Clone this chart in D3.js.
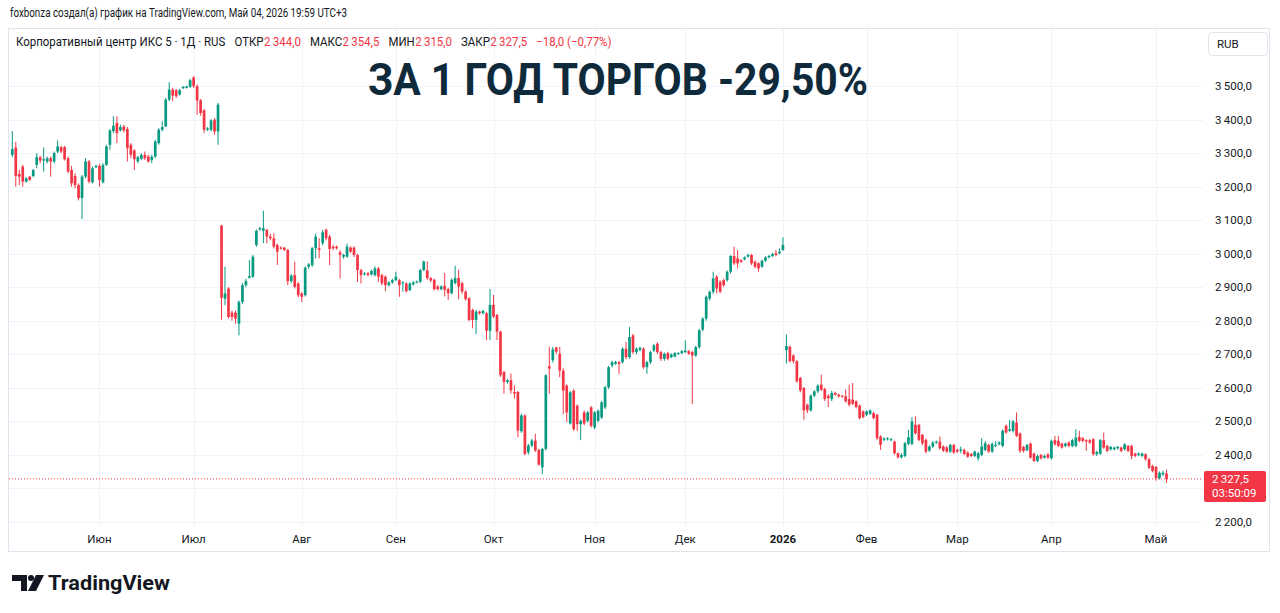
<!DOCTYPE html>
<html><head><meta charset="utf-8">
<script src="https://cdn.jsdelivr.net/npm/d3@7/dist/d3.min.js"></script>
<style>body{margin:0;background:#fff}svg{display:block;font-family:Roboto,"Noto Sans",sans-serif}</style>
</head><body><svg id="c" width="1280" height="613"></svg>
<script>
// ---- data ----
const openP = [3295,3317,3238,3260,3215,3230,3232,3265,3288,3278,3275,3285,3275,3305,3318,3318,3285,3250,3232,3205,3166,3230,3275,3213,3258,3262,3213,3265,3325,3366,3390,3368,3380,3372,3325,3308,3276,3283,3295,3290,3280,3290,3330,3370,3380,3460,3490,3488,3475,3494,3495,3498,3526,3500,3458,3428,3370,3370,3400,3365,
3084,2866,2896,2824,2824,2791,2856,2906,2928,2931,3026,3072,3068,3071,3051,3046,3026,3018,3018,3011,2918,2936,2911,2881,2876,2961,2966,3016,3016,3031,3071,3051,3021,3021,3004,2991,2991,3018,3018,2996,2951,2938,2941,2938,2936,2956,2936,2931,2906,2914,2921,2921,2911,2911,2891,2908,2914,2916,2951,
2950,2927,2922,2902,2894,2904,2894,2882,2912,2927,2912,2887,2867,2832,2802,2827,2822,2822,2770,2847,2817,2767,2647,2617,2622,2587,2587,2470,2517,2407,2427,2442,2414,2362,2417,2664,2682,2720,2701,2651,2606,
2493,2591,2546,2491,2526,2501,2541,2481,2501,2511,2541,2601,2666,2671,2676,2676,2716,2691,2756,2706,2713,2716,2661,2676,2711,2731,2706,2686,2703,2691,2693,2701,2703,2706,2709,2706,2696,2721,2773,2806,2866,2886,2931,2916,2921,2921,2946,2993,2986,2981,2983,2991,2996,2976,2971,2961,2979,2989,2993,3001,3001,3011,
2712,2722,2696,2679,2629,2599,2549,2532,2576,2589,2609,2596,2576,2566,2584,2579,2576,2574,2566,2564,2559,2546,2529,2519,2522,2524,2519,2454,2444,2446,2444,2439,2404,2392,2396,2432,2432,2489,2489,2459,2444,2412,2424,2436,2439,2424,2422,2409,2429,2414,2412,2414,2406,2402,2396,2389,2399,2414,2429,2409,2426,
2431,2426,2486,2471,2471,2496,2463,2423,2413,2433,2403,2381,2399,2391,2401,2389,2443,2441,2433,2426,2436,2426,2426,2453,2449,2443,2443,2446,2401,2403,2443,2426,2416,2416,2419,2421,2416,2426,2426,2403,2399,2396,2401,2386,2366,2363,2330,2341,2344];
const highP = [3366,3334,3250,3265,3228,3232,3252,3300,3292,3317,3290,3290,3305,3338,3322,3322,3290,3262,3240,3210,3235,3285,3280,3260,3266,3268,3270,3325,3372,3410,3410,3385,3385,3378,3330,3312,3292,3300,3305,3295,3295,3340,3375,3395,3465,3512,3495,3492,3492,3500,3502,3522,3530,3505,3462,3432,3378,3402,3405,3450,
3086,2961,2900,2830,2830,2860,2912,2925,2981,2996,3072,3080,3128,3074,3060,3061,3030,3022,3020,3014,2940,2976,2915,2885,2962,2972,3020,3060,3046,3071,3075,3056,3026,3024,3010,3000,3030,3022,3022,3000,2955,2945,2945,2952,2962,2960,2940,2935,2918,2925,2946,2925,2918,2915,2915,2918,2920,2955,2980,
2977,2930,2925,2906,2906,2942,2898,2926,2964,2952,2916,2890,2870,2836,2832,2830,2832,2826,2894,2877,2820,2770,2650,2626,2642,2607,2590,2522,2520,2432,2447,2462,2418,2420,2640,2722,2722,2722,2722,2658,2610,
2590,2595,2550,2505,2532,2530,2545,2530,2535,2560,2605,2665,2680,2680,2680,2720,2736,2781,2760,2720,2722,2720,2680,2710,2731,2735,2710,2705,2707,2702,2706,2706,2712,2741,2712,2710,2725,2775,2810,2875,2890,2946,2936,2920,2925,2950,2996,3021,3011,2984,2992,3000,2999,2980,2975,2982,2992,2996,3002,3011,3016,3049,
2759,2726,2700,2682,2632,2602,2552,2580,2592,2610,2639,2600,2580,2590,2588,2582,2578,2594,2609,2614,2562,2550,2532,2532,2535,2528,2522,2458,2452,2452,2450,2442,2406,2404,2438,2474,2512,2514,2492,2462,2448,2428,2440,2442,2454,2428,2425,2432,2432,2418,2424,2418,2410,2405,2412,2408,2449,2440,2432,2436,2440,
2440,2475,2490,2503,2503,2526,2466,2426,2432,2436,2406,2400,2402,2400,2404,2445,2456,2456,2436,2436,2440,2447,2476,2471,2452,2446,2446,2449,2412,2447,2466,2429,2426,2424,2426,2424,2434,2429,2429,2406,2406,2406,2404,2390,2370,2366,2350,2352,2354.5];
const lowP = [3288,3200,3205,3200,3212,3218,3228,3255,3270,3245,3270,3230,3270,3300,3300,3278,3240,3200,3195,3159,3103,3225,3210,3210,3255,3200,3210,3262,3310,3360,3330,3365,3362,3275,3285,3250,3270,3280,3280,3272,3270,3285,3325,3365,3378,3455,3455,3465,3472,3492,3493,3495,3495,3415,3412,3360,3366,3365,3355,3325,
2803,2846,2806,2800,2791,2756,2850,2900,2926,2928,3020,3068,3031,3031,3040,3015,2966,3012,3008,2906,2912,2896,2870,2856,2872,2955,2960,2986,2986,3025,3040,2966,3010,3012,2926,2985,2988,3002,2990,2916,2911,2935,2932,2935,2932,2916,2906,2888,2902,2910,2918,2871,2886,2884,2888,2905,2912,2912,2948,
2922,2915,2890,2890,2890,2872,2862,2878,2908,2864,2880,2860,2798,2777,2760,2818,2818,2742,2742,2808,2742,2632,2582,2612,2582,2567,2452,2465,2398,2400,2422,2408,2367,2342,2412,2582,2675,2700,2631,2521,2497,
2490,2471,2471,2443,2488,2496,2481,2476,2496,2506,2536,2596,2660,2668,2641,2672,2685,2686,2700,2700,2708,2656,2641,2670,2706,2700,2680,2680,2682,2688,2690,2698,2700,2703,2698,2551,2692,2716,2768,2800,2860,2880,2881,2882,2900,2916,2940,2966,2956,2972,2980,2988,2966,2956,2946,2958,2975,2986,2990,2992,2998,3008,
2672,2675,2672,2614,2586,2504,2524,2528,2572,2584,2590,2560,2542,2560,2576,2570,2570,2555,2544,2548,2538,2505,2508,2515,2518,2505,2444,2414,2440,2442,2440,2400,2388,2388,2392,2428,2428,2460,2440,2428,2404,2408,2420,2432,2415,2408,2405,2405,2402,2405,2404,2398,2390,2392,2392,2382,2395,2410,2405,2405,2422,
2428,2422,2462,2468,2466,2452,2405,2406,2410,2388,2378,2377,2385,2388,2387,2385,2427,2422,2418,2422,2422,2422,2422,2437,2437,2411,2432,2397,2396,2399,2417,2407,2412,2412,2415,2407,2412,2407,2386,2392,2395,2392,2382,2357,2347,2322,2326,2336,2315];
const closeP = [3312,3232,3230,3215,3225,3220,3250,3288,3278,3282,3285,3275,3300,3320,3305,3282,3245,3210,3205,3166,3230,3275,3215,3255,3262,3220,3265,3320,3368,3382,3360,3378,3368,3315,3295,3282,3288,3295,3285,3275,3290,3335,3370,3378,3460,3490,3472,3470,3488,3498,3499,3518,3500,3457,3420,3370,3374,3398,3365,3445,
2868,2881,2811,2811,2806,2856,2906,2918,2933,2991,3068,3076,3076,3051,3046,3021,3006,3016,3011,2918,2934,2901,2876,2871,2958,2968,3016,3051,3011,3064,3046,3014,3016,3016,2996,2996,3021,3006,2996,2951,2936,2941,2936,2948,2956,2931,2911,2906,2914,2921,2931,2906,2914,2888,2911,2914,2916,2951,2976,
2927,2920,2894,2894,2902,2892,2882,2922,2927,2902,2887,2864,2802,2802,2827,2822,2829,2770,2847,2812,2767,2637,2617,2622,2592,2582,2472,2517,2402,2427,2442,2412,2370,2417,2637,2657,2714,2707,2651,2591,2526,
2586,2476,2491,2501,2493,2526,2486,2526,2531,2556,2601,2661,2676,2676,2671,2716,2691,2751,2706,2716,2719,2661,2676,2706,2726,2706,2686,2701,2686,2699,2703,2703,2709,2711,2701,2696,2721,2771,2806,2871,2886,2926,2896,2886,2906,2946,2993,2971,2971,2976,2989,2996,2971,2961,2956,2979,2989,2993,2999,2996,3006,3026,
2724,2679,2679,2619,2592,2532,2532,2576,2589,2606,2594,2566,2569,2584,2579,2574,2574,2559,2549,2552,2542,2509,2512,2529,2532,2509,2449,2429,2448,2449,2446,2404,2392,2399,2434,2452,2499,2464,2444,2434,2409,2424,2436,2439,2419,2412,2409,2429,2406,2409,2416,2402,2394,2396,2409,2404,2424,2434,2409,2432,2429,
2436,2471,2466,2476,2499,2456,2411,2411,2429,2391,2381,2396,2389,2396,2391,2441,2431,2426,2421,2433,2426,2443,2451,2441,2441,2439,2436,2401,2408,2443,2421,2411,2423,2421,2423,2411,2431,2411,2396,2396,2403,2403,2386,2361,2351,2330,2346,2346,2327.5];
const priceTicks = [2200,2300,2400,2500,2600,2700,2800,2900,3000,3100,3200,3300,3400,3500];
const monthLabels = ["Июн","Июл","Авг","Сен","Окт","Ноя","Дек","2026","Фев","Мар","Апр","Май"];
const monthBar = [26,53,84,111,139,168,194,222,246,272,299,329];
const lastPrice = 2327.5;

// ---- scales ----
const N = closeP.length;
const bars = d3.range(N).map(i => ({i: i+1, o: openP[i], h: highP[i], l: lowP[i], c: closeP[i]}));
const x = d3.scaleLinear().domain([1, N]).range([12.3, 1166.5]);
const y = d3.scaleLinear().domain([2200, 3500]).range([521.6, 86.2]);
const UP = "#089981", DN = "#f23645", TXT = "#131722", GRID = "#f0f3fa";
const loc = d3.formatLocale({decimal: ",", thousands: "\u2009", grouping: [3], currency: ["", ""]});
const fmt = loc.format(",.1f");

const svg = d3.select("#c");
svg.append("rect").attr("width",1280).attr("height",613).attr("fill","#fff");

// header credit
svg.append("text").attr("x",10).attr("y",17).attr("font-size",12).attr("fill",TXT)
  .attr("textLength",337).attr("lengthAdjust","spacingAndGlyphs")
  .text("foxbonza создал(а) график на TradingView.com, Май 04, 2026 19:59 UTC+3");

// frame
svg.append("rect").attr("x",8.5).attr("y",28.5).attr("width",1261).attr("height",523)
  .attr("fill","none").attr("stroke","#e0e3eb");

const plotL = 9, plotR = 1203;
// horizontal grid
svg.append("g").selectAll("line").data(priceTicks).join("line")
  .attr("x1",plotL).attr("x2",plotR)
  .attr("y1",d=>Math.round(y(d))+0.5).attr("y2",d=>Math.round(y(d))+0.5)
  .attr("stroke",GRID);
// vertical grid
svg.append("g").selectAll("line").data(monthBar).join("line")
  .attr("x1",d=>Math.round(x(d))+0.5).attr("x2",d=>Math.round(x(d))+0.5)
  .attr("y1",29).attr("y2",526).attr("stroke",GRID);

// legend row: separate pieces laid out one after another, then squeezed to the reference width
const legPieces = [["Корпоративный центр ИКС 5 · 1Д · RUS",TXT,0],["ОТКР",TXT,9],[fmt(openP[N-1]),DN,0],["МАКС",TXT,9],[fmt(highP[N-1]),DN,0],
 ["МИН",TXT,9],[fmt(lowP[N-1]),DN,0],["ЗАКР",TXT,9],[fmt(closeP[N-1]),DN,0],["−18,0 (−0,77%)",DN,9]];
const legG = svg.append("g");
let cx = 0;
legPieces.forEach(([t,c,gap]) => {
  cx += gap;
  const tx = legG.append("text").attr("x",cx).attr("y",0).attr("font-size",12).attr("fill",c).text(t);
  cx += tx.node().getComputedTextLength() + 0.5;
});
legG.attr("transform",`translate(16,46) scale(${596/cx},1)`);

// title
svg.append("text").attr("x",368).attr("y",95).attr("font-size",44).attr("font-weight",700)
  .attr("fill","#0e2a3b").attr("textLength",500).attr("lengthAdjust","spacingAndGlyphs")
  .text("ЗА 1 ГОД ТОРГОВ -29,50%");

// candles
const g = svg.append("g");
g.selectAll("line").data(bars).join("line")
  .attr("x1",d=>x(d.i)).attr("x2",d=>x(d.i))
  .attr("y1",d=>y(d.h)).attr("y2",d=>y(d.l))
  .attr("stroke",d=>d.c>=d.o?UP:DN).attr("stroke-width",1);
g.selectAll("rect").data(bars).join("rect")
  .attr("x",d=>x(d.i)-1.35).attr("width",2.7)
  .attr("y",d=>y(Math.max(d.o,d.c)))
  .attr("height",d=>Math.max(1,Math.abs(y(d.o)-y(d.c))))
  .attr("fill",d=>d.c>=d.o?UP:DN);

// last price dotted line
svg.append("line").attr("x1",plotL).attr("x2",plotR)
  .attr("y1",y(lastPrice)).attr("y2",y(lastPrice))
  .attr("stroke",DN).attr("stroke-dasharray","1,2");

// price axis labels (the one hidden behind the last-price marker is not shown)
const ly = y(lastPrice);
svg.append("g").selectAll("text").data(priceTicks.filter(d => Math.abs(y(d) - (ly + 7)) > 20)).join("text")
  .attr("x",1252).attr("y",d=>y(d)+4).attr("text-anchor","end")
  .attr("font-size",11.5).attr("fill",TXT).text(d=>fmt(d));

// RUB box
svg.append("rect").attr("x",1208.5).attr("y",32.5).attr("width",59).attr("height",23).attr("rx",4)
  .attr("fill","#fff").attr("stroke","#e0e3eb");
svg.append("text").attr("x",1217).attr("y",48).attr("font-size",11.5).attr("fill",TXT).text("RUB");

// last price label
svg.append("rect").attr("x",1204).attr("y",ly-8).attr("width",62).attr("height",31).attr("rx",2).attr("fill",DN);
svg.append("text").attr("x",1212).attr("y",ly+4).attr("font-size",11.5).attr("fill","#fff").text(fmt(lastPrice));
svg.append("text").attr("x",1212).attr("y",ly+18).attr("font-size",11.5).attr("fill","#fff").text("03:50:09");

// time axis
svg.append("g").selectAll("text").data(monthBar).join("text")
  .attr("x",d=>x(d)).attr("y",543).attr("text-anchor","middle")
  .attr("font-size",11.5).attr("fill",TXT)
  .attr("font-weight",(d,i)=>monthLabels[i]==="2026"?700:400)
  .text((d,i)=>monthLabels[i]);

// TradingView logo
const lg = svg.append("g").attr("fill","#131722");
lg.append("path").attr("d","M12,575 H27 V591 H21 V581 H12 Z");
lg.append("circle").attr("cx",31).attr("cy",578).attr("r",3);
lg.append("path").attr("d","M36,575 H44 L36,591 H28 Z");
svg.append("text").attr("x",48).attr("y",590).attr("font-size",20).attr("font-weight",700)
  .attr("fill","#131722").attr("textLength",122).attr("lengthAdjust","spacingAndGlyphs").text("TradingView");
</script></body></html>
